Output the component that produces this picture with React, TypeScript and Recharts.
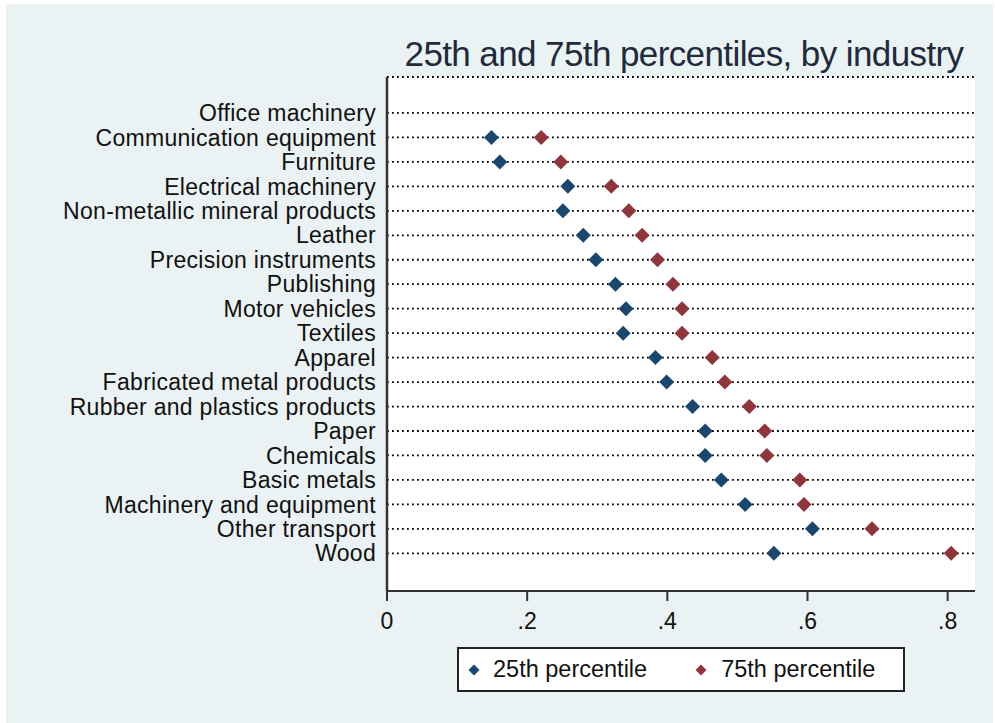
import React from "react";
import {
  ScatterChart,
  Scatter,
  XAxis,
  YAxis,
  CartesianGrid,
} from "recharts";

const industries = [
  "Office machinery",
  "Communication equipment",
  "Furniture",
  "Electrical machinery",
  "Non-metallic mineral products",
  "Leather",
  "Precision instruments",
  "Publishing",
  "Motor vehicles",
  "Textiles",
  "Apparel",
  "Fabricated metal products",
  "Rubber and plastics products",
  "Paper",
  "Chemicals",
  "Basic metals",
  "Machinery and equipment",
  "Other transport",
  "Wood",
];

// null = no observation drawn for that industry
const p25 = [
  null, 0.149, 0.161, 0.258, 0.251, 0.28, 0.298, 0.326, 0.341, 0.337,
  0.383, 0.399, 0.436, 0.454, 0.454, 0.477, 0.511, 0.607, 0.552,
];
const p75 = [
  null, 0.22, 0.248, 0.32, 0.345, 0.364, 0.386, 0.408, 0.421, 0.421,
  0.464, 0.482, 0.517, 0.539, 0.542, 0.589, 0.595, 0.692, 0.805,
];

const xTicks = [0, 0.2, 0.4, 0.6, 0.8];
const xTickLabels = ["0", ".2", ".4", ".6", ".8"];
const seriesNames = ["25th percentile", "75th percentile"];

const NAVY = "#1a476f";
const MAROON = "#90353b";
const FONT = "'Liberation Sans', Arial, sans-serif";

const toPoints = (vals: (number | null)[]) =>
  vals
    .map((v, i) => ({ idx: i, v }))
    .filter((d) => d.v !== null);

const rowTicks = industries.map((_, i) => i);

const diamond = (color: string, r: number) => (props: any) => {
  const { cx, cy } = props;
  if (cx == null || cy == null) return <g />;
  return (
    <polygon
      points={`${cx},${cy - r} ${cx + r},${cy} ${cx},${cy + r} ${cx - r},${cy}`}
      fill={color}
    />
  );
};

const LegendMark = ({ color }: { color: string }) => (
  <svg width={12} height={12} style={{ display: "block" }}>
    <polygon points="6,0.5 11.5,6 6,11.5 0.5,6" fill={color} />
  </svg>
);

export default function App() {
  return (
    <div
      style={{
        position: "absolute",
        left: 0,
        top: 0,
        width: 995,
        height: 723,
        background: "#ffffff",
        fontFamily: FONT,
        overflow: "hidden",
      }}
    >
      <div
        style={{
          position: "absolute",
          left: 6,
          top: 4,
          width: 987,
          height: 719,
          background: "#eaf2f3",
        }}
      />
      <div
        style={{
          position: "absolute",
          left: 390,
          top: 36,
          width: 588,
          textAlign: "center",
          fontSize: 35,
          lineHeight: "35px",
          letterSpacing: -0.6,
          color: "#1f2a3d",
          whiteSpace: "nowrap",
        }}
      >
        25th and 75th percentiles, by industry
      </div>
      <div style={{ position: "absolute", left: 0, top: 0 }}>
        <ScatterChart
          width={995}
          height={723}
          margin={{ top: 77, right: 20, bottom: 82, left: 0 }}
        >
          <CartesianGrid
            vertical={false}
            stroke="#000"
            strokeWidth={1.8}
            strokeDasharray="1.8 3.2"
            fill="#ffffff"
            fillOpacity={1}
          />
          <XAxis
            type="number"
            dataKey="v"
            domain={[0, 0.839]}
            allowDataOverflow
            ticks={xTicks}
            interval={0}
            height={50}
            tickFormatter={(v: number) => xTickLabels[xTicks.indexOf(v)] ?? String(v)}
            tickSize={10}
            tickMargin={12}
            axisLine={{ stroke: "#333", strokeWidth: 2 }}
            tickLine={{ stroke: "#333", strokeWidth: 2 }}
            tick={{ fontSize: 23, fill: "#111" }}
          />
          <YAxis
            type="number"
            dataKey="idx"
            reversed
            domain={[-1.47, 19.54]}
            allowDataOverflow
            ticks={rowTicks}
            interval={0}
            width={387}
            tickFormatter={(i: number) => industries[i] ?? ""}
            tickSize={0}
            tickMargin={11}
            tickLine={false}
            axisLine={{ stroke: "#333", strokeWidth: 2.5 }}
            tick={{ fontSize: 23, fill: "#111", letterSpacing: 0.3 }}
          />
          <Scatter
            name={seriesNames[0]}
            data={toPoints(p25)}
            fill={NAVY}
            shape={diamond(NAVY, 7.5)}
            isAnimationActive={false}
          />
          <Scatter
            name={seriesNames[1]}
            data={toPoints(p75)}
            fill={MAROON}
            shape={diamond(MAROON, 7.5)}
            isAnimationActive={false}
          />
        </ScatterChart>
      </div>
      <div
        style={{
          position: "absolute",
          left: 457,
          top: 647,
          width: 448,
          height: 45,
          boxSizing: "border-box",
          border: "2px solid #222",
          background: "#ffffff",
          display: "flex",
          alignItems: "center",
          fontSize: 23.5,
          color: "#111",
        }}
      >
        <div style={{ marginLeft: 9 }}>
          <LegendMark color={NAVY} />
        </div>
        <span style={{ marginLeft: 13 }}>{seriesNames[0]}</span>
        <div style={{ marginLeft: 48 }}>
          <LegendMark color={MAROON} />
        </div>
        <span style={{ marginLeft: 14 }}>{seriesNames[1]}</span>
      </div>
    </div>
  );
}
